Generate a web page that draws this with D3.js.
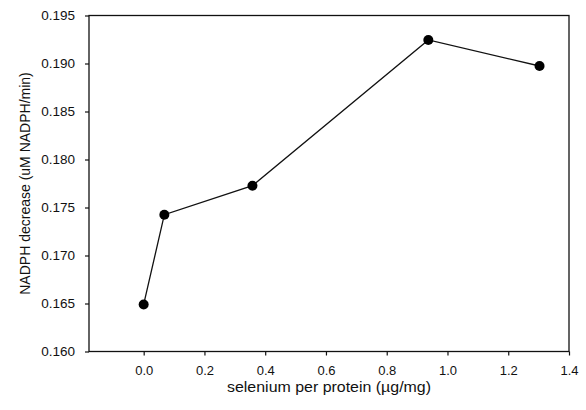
<!DOCTYPE html>
<html>
<head>
<meta charset="utf-8">
<script src="https://cdn.jsdelivr.net/npm/d3@7"></script>
<style>
    body {margin: 0; background: #fff;}
    text {font-family: "Liberation Sans", Arial, sans-serif; fill: #111;}
</style>
</head>
<body>
<svg id="chart" width="586" height="410"></svg>
<script>
const seleniumValues = [0.0, 0.068, 0.358, 0.937, 1.303]
const nadphValues = [0.1649, 0.17425, 0.17727, 0.19245, 0.18974]
const xTicks = [0.0, 0.2, 0.4, 0.6, 0.8, 1.0, 1.2, 1.4]
const yTicks = [0.160, 0.165, 0.170, 0.175, 0.180, 0.185, 0.190, 0.195]

const margin = {top: 15.5, right: 17, bottom: 58.5, left: 89},
    width = 586 - margin.left - margin.right,
    height = 410 - margin.top - margin.bottom;

const svg = d3.select("#chart")
    .append("g")
    .attr("transform", "translate(" + margin.left + "," + margin.top + ")")

const x = d3.scaleLinear()
    .domain([-0.18, 1.4])
    .range([0, width])

const y = d3.scaleLinear()
    .domain([0.160, 0.195])
    .range([height, 0])

// frame
svg.append("rect")
    .attr("width", width)
    .attr("height", height)
    .attr("fill", "none")
    .attr("stroke", "#111")
    .attr("stroke-width", 1.3)

// X axis
const xAxis = svg.append("g")
    .attr("transform", "translate(0," + height + ")")
    .call(d3.axisBottom(x).tickValues(xTicks).tickFormat(d3.format(".1f")).tickSize(4).tickPadding(10))
xAxis.select(".domain").remove()
xAxis.selectAll("line").attr("stroke", "#111").attr("stroke-width", 1.2)
xAxis.selectAll("text").style("font-size", "13px").attr("fill", "#111")

// Y axis
const yAxis = svg.append("g")
    .call(d3.axisLeft(y).tickValues(yTicks).tickFormat(d3.format(".3f")).tickSize(4).tickPadding(10))
yAxis.select(".domain").remove()
yAxis.selectAll("line").attr("stroke", "#111").attr("stroke-width", 1.2)
yAxis.selectAll("text").style("font-size", "13.5px").attr("fill", "#111")

// line + points
const points = seleniumValues.map((s, i) => ({s: s, v: nadphValues[i]}))

svg.append("path")
    .datum(points)
    .attr("fill", "none")
    .attr("stroke", "#111")
    .attr("stroke-width", 1.3)
    .attr("d", d3.line().x(d => x(d.s)).y(d => y(d.v)))

svg.selectAll("circle")
    .data(points)
    .enter()
    .append("circle")
    .attr("cx", d => x(d.s))
    .attr("cy", d => y(d.v))
    .attr("r", 5)
    .attr("fill", "#000")

// labels
svg.append("text")
    .attr("x", width / 2)
    .attr("y", height + 40)
    .style("text-anchor", "middle")
    .style("font-size", "14.5px")
    .attr("textLength", 204)
    .attr("lengthAdjust", "spacingAndGlyphs")
    .text("selenium per protein (µg/mg)")

svg.append("text")
    .attr("transform", "rotate(-90)")
    .attr("x", -height / 2)
    .attr("y", -59)
    .style("text-anchor", "middle")
    .style("font-size", "14px")
    .text("NADPH decrease (uM NADPH/min)")
</script>
</body>
</html>
